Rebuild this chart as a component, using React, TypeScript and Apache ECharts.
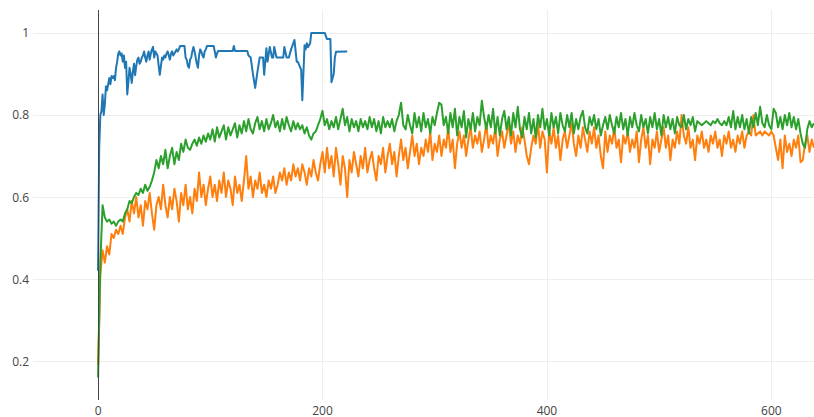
import React, { useEffect, useRef } from "react";
import * as echarts from "echarts";

// x tick labels and y tick labels
const X_TICKS = [0, 200, 400, 600];
const Y_TICKS = [0.2, 0.4, 0.6, 0.8, 1];

// blue series (x, y) vertices
const blueX = [0, 1, 2, 3, 4, 5, 6, 7, 8, 9, 10, 11, 12, 13, 14, 15, 16, 17, 18, 19, 20, 21, 22, 23, 24, 25, 26, 27, 28, 29, 30, 31, 32, 33, 34, 35, 36, 37, 38, 39, 40, 41, 42, 43, 44, 45, 46, 47, 48, 49, 50, 51, 52, 53, 54, 55, 56, 57, 58, 59, 60, 61, 62, 63, 64, 65, 66, 67, 68, 69, 70, 71, 72, 73, 77, 78, 79, 80, 81, 82, 83, 84, 85, 86, 87, 88, 89, 90, 91, 92, 93, 94, 95, 96, 97, 103, 104, 105, 106, 107, 120, 121, 122, 133, 134, 136, 138, 140, 142, 144, 147, 148, 150, 151, 153, 155, 156, 157, 159, 165, 166, 168, 170, 172, 174, 175, 177, 178, 181, 182, 184, 185, 186, 187, 189, 190, 202, 204, 207, 208, 210, 211, 212, 222];
const blueY = [0.42, 0.72, 0.8, 0.81, 0.85, 0.8, 0.825, 0.87, 0.86, 0.875, 0.89, 0.875, 0.895, 0.89, 0.895, 0.885, 0.915, 0.93, 0.95, 0.955, 0.945, 0.95, 0.93, 0.945, 0.915, 0.93, 0.85, 0.88, 0.915, 0.9, 0.878, 0.905, 0.925, 0.897, 0.92, 0.935, 0.94, 0.925, 0.93, 0.94, 0.945, 0.955, 0.94, 0.93, 0.945, 0.955, 0.935, 0.95, 0.96, 0.966, 0.94, 0.955, 0.95, 0.945, 0.92, 0.898, 0.92, 0.94, 0.935, 0.945, 0.94, 0.95, 0.955, 0.945, 0.935, 0.95, 0.955, 0.945, 0.95, 0.955, 0.96, 0.955, 0.96, 0.968, 0.968, 0.94, 0.935, 0.92, 0.915, 0.935, 0.94, 0.955, 0.966, 0.955, 0.94, 0.925, 0.915, 0.945, 0.96, 0.955, 0.945, 0.94, 0.955, 0.96, 0.968, 0.968, 0.955, 0.94, 0.95, 0.956, 0.956, 0.968, 0.956, 0.956, 0.945, 0.94, 0.9, 0.866, 0.905, 0.94, 0.94, 0.898, 0.963, 0.93, 0.966, 0.94, 0.94, 0.966, 0.94, 0.94, 0.966, 0.94, 0.94, 0.96, 0.975, 0.983, 0.93, 0.93, 0.91, 0.836, 0.97, 0.96, 0.975, 0.965, 0.975, 1.0, 1.0, 0.985, 0.985, 0.88, 0.9, 0.94, 0.954, 0.955];

// orange and green series, one value every STEP units of x starting at 0
const STEP = 2;
const orangeY = [
  0.19, 0.41, 0.47, 0.44, 0.48, 0.46, 0.51, 0.5, 0.52, 0.51,
  0.53, 0.51, 0.55, 0.57, 0.54, 0.59, 0.56, 0.6, 0.55, 0.58,
  0.53, 0.59, 0.57, 0.61, 0.56, 0.52, 0.58, 0.6, 0.57, 0.63,
  0.58, 0.55, 0.6, 0.57, 0.62, 0.59, 0.54, 0.61, 0.58, 0.63,
  0.57, 0.6, 0.56, 0.62, 0.59, 0.66, 0.6, 0.63, 0.58, 0.62,
  0.65, 0.6, 0.63, 0.59, 0.64, 0.61, 0.66, 0.6, 0.64, 0.62,
  0.58, 0.65, 0.61, 0.63, 0.59, 0.64, 0.7, 0.62, 0.65, 0.6,
  0.64, 0.62, 0.66, 0.61, 0.63, 0.6, 0.64, 0.62, 0.65, 0.61,
  0.63, 0.66, 0.64, 0.67, 0.63, 0.66, 0.64, 0.68, 0.65, 0.67,
  0.64, 0.68, 0.66, 0.63, 0.67, 0.65, 0.69, 0.66, 0.64, 0.68,
  0.71, 0.66, 0.72, 0.67, 0.7, 0.65, 0.72, 0.68, 0.63, 0.7,
  0.67, 0.6, 0.69, 0.66, 0.71, 0.68, 0.65, 0.7, 0.67, 0.72,
  0.66, 0.69, 0.71, 0.67, 0.64, 0.7, 0.68, 0.72, 0.66, 0.7,
  0.73, 0.68, 0.71, 0.65, 0.7, 0.74, 0.69, 0.72, 0.67, 0.71,
  0.75, 0.7, 0.73, 0.68, 0.72, 0.7, 0.74, 0.71, 0.76, 0.69,
  0.73, 0.71, 0.75, 0.7, 0.74, 0.72, 0.77, 0.71, 0.74, 0.67,
  0.73, 0.76, 0.72, 0.75, 0.7, 0.74, 0.77, 0.72, 0.75, 0.73,
  0.76, 0.71, 0.74, 0.78, 0.72, 0.75, 0.73, 0.77, 0.7, 0.74,
  0.76, 0.72, 0.75, 0.78, 0.73, 0.76, 0.71, 0.75, 0.73, 0.77,
  0.74, 0.7, 0.68, 0.72, 0.75, 0.73, 0.78, 0.72, 0.76, 0.74,
  0.66, 0.76, 0.73, 0.77, 0.72, 0.75, 0.69, 0.74, 0.76, 0.72,
  0.75, 0.78, 0.73, 0.7, 0.75, 0.72, 0.77, 0.74, 0.71, 0.76,
  0.73, 0.77, 0.72, 0.75, 0.7, 0.67, 0.76, 0.71, 0.75, 0.73,
  0.77, 0.72, 0.74, 0.685, 0.75, 0.73, 0.76, 0.71, 0.74, 0.72,
  0.76, 0.685, 0.74, 0.77, 0.72, 0.75, 0.68, 0.74, 0.72, 0.76,
  0.71, 0.74, 0.77, 0.72, 0.75, 0.69, 0.74, 0.72, 0.76, 0.73,
  0.8, 0.75, 0.73, 0.77, 0.72, 0.74, 0.69, 0.75, 0.73, 0.76,
  0.72, 0.74, 0.71, 0.75, 0.73, 0.76, 0.72, 0.74, 0.7, 0.75,
  0.73, 0.76, 0.72, 0.74, 0.71, 0.75, 0.73, 0.76, 0.72, 0.75,
  0.76, 0.75, 0.8, 0.75, 0.755, 0.76, 0.75, 0.76, 0.755, 0.75,
  0.76, 0.75, 0.72, 0.69, 0.74, 0.67, 0.75, 0.71, 0.73, 0.7,
  0.74, 0.72, 0.75, 0.685, 0.69, 0.73, 0.75, 0.71, 0.74, 0.72,
];
const greenY = [
  0.16, 0.44, 0.58, 0.55, 0.54, 0.545, 0.535, 0.54, 0.53, 0.54,
  0.545, 0.54, 0.56, 0.57, 0.59, 0.585, 0.6, 0.61, 0.605, 0.62,
  0.61, 0.63, 0.615, 0.625, 0.64, 0.66, 0.69, 0.67, 0.7, 0.68,
  0.715, 0.67, 0.7, 0.72, 0.68, 0.71, 0.69, 0.73, 0.71, 0.74,
  0.72, 0.715, 0.73, 0.74, 0.725, 0.745, 0.73, 0.75, 0.735, 0.755,
  0.74, 0.765, 0.735, 0.77, 0.745, 0.76, 0.775, 0.74, 0.77, 0.75,
  0.765, 0.78, 0.745, 0.775, 0.755, 0.785, 0.76, 0.79, 0.765, 0.755,
  0.78, 0.795, 0.765, 0.785, 0.76, 0.79, 0.765, 0.78, 0.8, 0.77,
  0.785, 0.76, 0.79, 0.765, 0.795, 0.775, 0.76, 0.785, 0.765, 0.78,
  0.765, 0.775, 0.755, 0.77, 0.75, 0.74, 0.755, 0.76, 0.775, 0.79,
  0.81, 0.775, 0.79, 0.765, 0.785, 0.77, 0.795, 0.765, 0.79, 0.815,
  0.775, 0.795, 0.76, 0.79, 0.77, 0.785, 0.76, 0.79, 0.77, 0.785,
  0.765, 0.795, 0.77, 0.79, 0.76, 0.785, 0.755, 0.795, 0.77, 0.785,
  0.77, 0.79, 0.76, 0.785, 0.8, 0.83, 0.775, 0.765, 0.8, 0.775,
  0.755, 0.805, 0.77, 0.795, 0.76, 0.805, 0.77, 0.79, 0.755, 0.795,
  0.775, 0.805, 0.83, 0.825, 0.775, 0.795, 0.755, 0.805, 0.77, 0.815,
  0.75, 0.795, 0.77, 0.81, 0.745, 0.79, 0.765, 0.805, 0.76, 0.795,
  0.775, 0.835, 0.795, 0.765, 0.8, 0.77, 0.815, 0.755, 0.795, 0.75,
  0.79, 0.81, 0.765, 0.795, 0.75, 0.805, 0.77, 0.82, 0.765, 0.745,
  0.795, 0.765, 0.805, 0.755, 0.79, 0.745, 0.8, 0.77, 0.815, 0.765,
  0.79, 0.75, 0.805, 0.77, 0.795, 0.755, 0.805, 0.775, 0.76, 0.8,
  0.77, 0.805, 0.755, 0.79, 0.765, 0.795, 0.81, 0.77, 0.755, 0.795,
  0.775, 0.8, 0.765, 0.79, 0.75, 0.775, 0.795, 0.765, 0.8, 0.775,
  0.755, 0.795, 0.77, 0.805, 0.765, 0.79, 0.75, 0.795, 0.77, 0.805,
  0.775, 0.76, 0.8, 0.77, 0.79, 0.755, 0.795, 0.77, 0.805, 0.765,
  0.79, 0.75, 0.8, 0.77, 0.795, 0.765, 0.79, 0.755, 0.795, 0.775,
  0.77, 0.8, 0.765, 0.79, 0.775, 0.795, 0.76, 0.785, 0.78, 0.775,
  0.78, 0.785, 0.78, 0.775, 0.785, 0.78, 0.79, 0.78, 0.775, 0.785,
  0.775, 0.795, 0.77, 0.81, 0.765, 0.795, 0.77, 0.8, 0.765, 0.79,
  0.755, 0.795, 0.77, 0.805, 0.775, 0.82, 0.78, 0.77, 0.8, 0.775,
  0.765, 0.815, 0.805, 0.77, 0.795, 0.765, 0.8, 0.775, 0.805, 0.77,
  0.795, 0.765, 0.79, 0.755, 0.73, 0.72, 0.765, 0.785, 0.77, 0.78,
];

const X_MIN = -58;
const X_MAX = 638;
const Y_MIN = 0.105;
const Y_MAX = 1.056;

const FONT = "Open Sans";
const TEXT = "#444";

export default function App() {
  const ref = useRef<HTMLDivElement>(null);
  useEffect(() => {
    document.body.style.margin = "0";
    if (!ref.current) return;
    const chart = echarts.init(ref.current, null, { renderer: "svg" });
    const blue = blueX.map((x, i) => [x, blueY[i]]);
    const orange = orangeY.map((v, i) => [i * STEP, v]);
    const green = greenY.map((v, i) => [i * STEP, v]);
    const lineSeries = (name: string, data: number[][], color: string, z: number) => ({
      name,
      type: "line",
      data,
      z,
      showSymbol: false,
      symbol: "none",
      lineStyle: { color, width: 2, join: "round" },
      silent: true,
    });
    chart.setOption({
      animation: false,
      grid: { left: 33, right: 0, top: 10, bottom: 17 },
      xAxis: {
        type: "value",
        min: X_MIN,
        max: X_MAX,
        axisLine: { show: false },
        axisTick: { show: false, customValues: X_TICKS },
        axisLabel: {
          customValues: X_TICKS,
          color: TEXT,
          fontFamily: FONT,
          fontSize: 12,
          margin: 4,
        },
        splitLine: { show: true, lineStyle: { color: "#eee", width: 1 } },
      },
      yAxis: {
        type: "value",
        min: Y_MIN,
        max: Y_MAX,
        axisLine: { show: false },
        axisTick: { show: false, customValues: Y_TICKS },
        axisLabel: {
          customValues: Y_TICKS,
          color: TEXT,
          fontFamily: FONT,
          fontSize: 12,
          margin: 4,
        },
        splitLine: { show: true, lineStyle: { color: "#eee", width: 1 } },
      },
      series: [
        {
          type: "line",
          data: [],
          z: 1,
          silent: true,
          markLine: {
            silent: true,
            symbol: "none",
            label: { show: false },
            lineStyle: { color: "#444", width: 1, type: "solid" },
            data: [{ xAxis: 0 }],
          },
        },
        lineSeries("orange", orange, "#ff7f0e", 2),
        lineSeries("green", green, "#2ca02c", 3),
        lineSeries("blue", blue, "#1f77b4", 4),
      ],
    });
    return () => chart.dispose();
  }, []);
  return <div ref={ref} style={{ width: 814, height: 417 }} />;
}
